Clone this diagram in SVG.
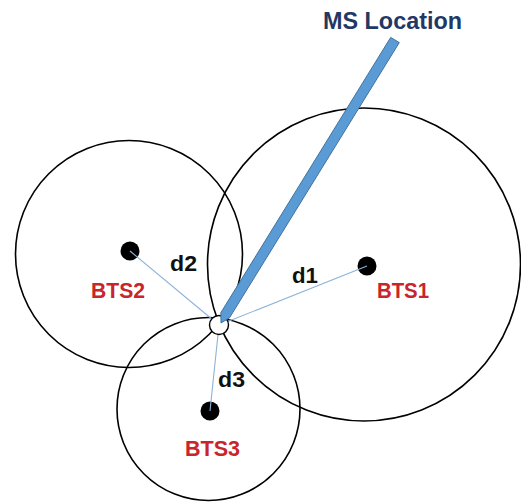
<svg xmlns="http://www.w3.org/2000/svg" width="521" height="502" viewBox="0 0 521 502">
<style>
.range{fill:none;stroke:#000;stroke-width:1.6}
.dot{fill:#000}
.dist{stroke:#8db3d8;stroke-width:1.1;fill:none}
.bts{font-family:"Liberation Sans",Arial,sans-serif;font-weight:bold;font-size:22.5px;fill:#c8252d}
.dl{font-family:"Liberation Sans",Arial,sans-serif;font-weight:bold;font-size:22px;fill:#111}
.title{font-family:"Liberation Sans",Arial,sans-serif;font-weight:bold;font-size:23.5px;fill:#1f3864}
</style>
<rect width="521" height="502" fill="#fff"/>
<g id="BTS1">
<circle class="range" cx="364" cy="264.5" r="156.5"/>
<circle class="dot" cx="367" cy="266" r="9.5"/>
<text class="bts" x="377" y="298" textLength="52" lengthAdjust="spacingAndGlyphs">BTS1</text>
</g>
<g id="BTS2">
<circle class="range" cx="129" cy="254" r="113.5"/>
<circle class="dot" cx="130" cy="251" r="9.5"/>
<text class="bts" x="91" y="298" textLength="54" lengthAdjust="spacingAndGlyphs">BTS2</text>
</g>
<g id="BTS3">
<circle class="range" cx="208.5" cy="409" r="91.5"/>
<circle class="dot" cx="210" cy="411" r="9.5"/>
<text class="bts" x="185" y="456" textLength="55" lengthAdjust="spacingAndGlyphs">BTS3</text>
</g>
<g id="connectors">
<line class="dist" x1="219" y1="325" x2="367" y2="266"/>
<line class="dist" x1="219" y1="325" x2="130" y2="251"/>
<line class="dist" x1="219" y1="325" x2="210" y2="411"/>
<text class="dl" x="292" y="283" textLength="26" lengthAdjust="spacingAndGlyphs">d1</text>
<text class="dl" x="170" y="271" textLength="27" lengthAdjust="spacingAndGlyphs">d2</text>
<text class="dl" x="218" y="387" textLength="27" lengthAdjust="spacingAndGlyphs">d3</text>
</g>
<g id="MS">
<circle cx="219" cy="325" r="9.5" fill="#fff" stroke="#000" stroke-width="1.4"/>
<polygon points="390.7,37.4 399.3,42.6 229.5,317.8 221,323 220.9,312.6" fill="#5b9bd5" stroke="#41719c" stroke-width="1"/>
<text class="title" x="323" y="29" textLength="139" lengthAdjust="spacingAndGlyphs">MS Location</text>
</g>
</svg>
